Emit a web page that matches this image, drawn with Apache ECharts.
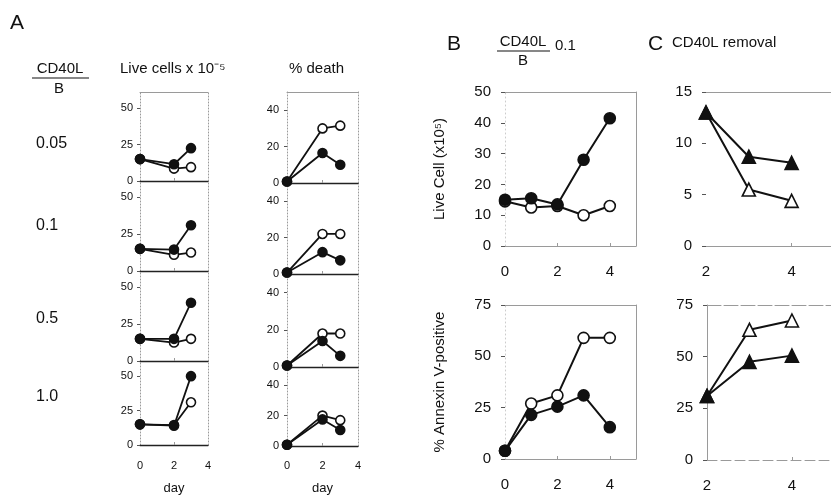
<!DOCTYPE html>
<html><head><meta charset="utf-8">
<script src="https://cdn.jsdelivr.net/npm/echarts@6/dist/echarts.min.js"></script>
<style>html,body{margin:0;padding:0;background:#fff}#c{width:831px;height:496px}</style>
</head><body><div id="c"></div>
<script>
const FONT = '"Liberation Sans", Arial, Helvetica, sans-serif';

// ---------- DATA ----------
const ratioLabels = ['0.05', '0.1', '0.5', '1.0'];
const daysA = [0, 2, 3];
const liveFilledA = [[15, 11.5, 22.5], [15, 14.5, 31], [15, 15, 39.5], [15, 14, 50]];
const liveOpenA   = [[15, 8.5, 9.5],   [15, 11, 12.5],  [15, 12.5, 15], [15, 14.5, 31]];
const deathFilledA = [[0.8, 16.5, 10], [0.8, 12, 7.5], [0.8, 14, 6], [0.8, 17.5, 10.5]];
const deathOpenA   = [[0.8, 30, 31.5], [0.8, 22, 22],  [0.8, 18, 18], [0.8, 20, 17]];
const liveTicksA = [0, 25, 50];
const deathTicksA = [0, 20, 40];
const dayTicksA = [0, 2, 4];

const daysB = [0, 1, 2, 3, 4];
const liveFilledB = [15, 15.5, 13.5, 28, 41.5];
const liveOpenB   = [14.5, 12.5, 13, 10, 13];
const annexFilledB = [4, 21.5, 25.5, 31, 15.5];
const annexOpenB   = [4, 27, 31, 59, 59];
const dayTicksB = [0, 2, 4];
const liveTicksB = [0, 10, 20, 30, 40, 50];
const annexTicks = [0, 25, 50, 75];

const daysC = [2, 3, 4];
const liveFilledC = [13, 8.7, 8.1];
const liveOpenC   = [13, 5.5, 4.4];
const annexFilledC = [31, 47.5, 50.5];
const annexOpenC   = [31, 63, 67.5];
const dayTicksC = [2, 4];
const liveTicksC = [0, 5, 10, 15];

// ---------- BUILD ----------
const grids = [], xAxes = [], yAxes = [], series = [];
const GRAY = '#9a9a9a', DARK = '#222';

function panel(c) {
  const gi = grids.length;
  grids.push({ left: c.left, top: c.top, width: c.width, height: c.height, show: false });
  const xi = xAxes.length;
  xAxes.push({
    type: 'value', gridIndex: gi, min: c.xmin, max: c.xmax, position: 'bottom',
    axisLine: { show: !!c.bottomLine, onZero: false, lineStyle: c.bottomLine || {} },
    axisTick: { show: !!c.xTicks, customValues: c.xTicks || [], inside: true, length: 3, lineStyle: { color: GRAY } },
    axisLabel: { show: !!c.xLabels, customValues: c.xLabels || [], fontSize: c.xFont || 13, color: '#111', fontFamily: FONT, margin: c.xMargin || 12 },
    splitLine: { show: false },
    name: c.xName || '', nameLocation: 'middle', nameGap: c.xNameGap || 30,
    nameTextStyle: { fontSize: 13, color: '#111', fontFamily: FONT }
  });
  if (c.topLine) {
    xAxes.push({ type: 'value', gridIndex: gi, min: c.xmin, max: c.xmax, position: 'top',
      axisLine: { show: true, onZero: false, lineStyle: c.topLine }, axisTick: { show: false }, axisLabel: { show: false }, splitLine: { show: false } });
  }
  const yi = yAxes.length;
  yAxes.push({
    type: 'value', gridIndex: gi, min: c.ymin, max: c.ymax, position: 'left',
    axisLine: { show: !!c.leftLine, onZero: false, lineStyle: c.leftLine || {} },
    axisTick: { show: true, customValues: c.yTicks, length: c.tickLen || 4, lineStyle: { color: '#555' } },
    axisLabel: { customValues: c.yTicks, fontSize: c.yFont || 14, color: '#111', fontFamily: FONT, margin: c.yMargin || 8 },
    splitLine: { show: false },
    name: c.yName || '', nameLocation: 'middle', nameRotate: 90, nameGap: c.yNameGap || 50,
    nameTextStyle: { fontSize: 15, color: '#111', fontFamily: FONT }
  });
  if (c.rightLine) {
    yAxes.push({ type: 'value', gridIndex: gi, min: c.ymin, max: c.ymax, position: 'right',
      axisLine: { show: true, onZero: false, lineStyle: c.rightLine }, axisTick: { show: false }, axisLabel: { show: false }, splitLine: { show: false } });
  }
  c.series.forEach(s => {
    series.push({
      type: 'line', xAxisIndex: xi, yAxisIndex: yi,
      data: s.x.map((d, i) => [d, s.y[i]]),
      symbol: s.symbol, symbolSize: s.size, showAllSymbol: true,
      lineStyle: { color: '#111', width: s.lw || 2 },
      itemStyle: { color: s.filled ? '#111' : '#fff', borderColor: '#111', borderWidth: 1.6, opacity: 1 },
      z: s.filled ? 4 : 3, animation: false, silent: true
    });
  });
}

const liveRows = [[92, 89], [181, 90], [271, 90], [361, 88]];
const deathRows = [[92, 91], [183, 91], [274, 93], [367, 84]];
const deathMax = [50, 50, 50, 52];
const dotted = { color: GRAY, type: [1, 2], width: 1 };
for (let r = 0; r < 4; r++) {
  const last = r === 3;
  panel({
    left: 140, top: liveRows[r][0], width: 68, height: liveRows[r][1],
    xmin: 0, xmax: 4, ymin: 0, ymax: 61, yTicks: liveTicksA, yFont: 11, yMargin: 7, tickLen: 3,
    xTicks: [2], xLabels: last ? dayTicksA : null, xFont: 11, xMargin: 15,
    xName: last ? 'day' : '', xNameGap: 37,
    leftLine: dotted, rightLine: dotted, bottomLine: { color: DARK, width: 1.3 },
    topLine: r === 0 ? { color: GRAY, width: 1 } : null,
    series: [
      { x: daysA, y: liveOpenA[r], filled: false, symbol: 'circle', size: 9, lw: 1.8 },
      { x: daysA, y: liveFilledA[r], filled: true, symbol: 'circle', size: 9, lw: 1.8 }
    ]
  });
  panel({
    left: 287, top: deathRows[r][0], width: 71, height: deathRows[r][1],
    xmin: 0, xmax: 4, ymin: 0, ymax: deathMax[r], yTicks: deathTicksA, yFont: 11, yMargin: 8, tickLen: 3,
    xTicks: [2], xLabels: last ? dayTicksA : null, xFont: 11, xMargin: 14,
    xName: last ? 'day' : '', xNameGap: 36,
    leftLine: dotted, rightLine: dotted, bottomLine: { color: DARK, width: 1.3 },
    topLine: r === 0 ? { color: GRAY, width: 1 } : null,
    series: [
      { x: daysA, y: deathOpenA[r], filled: false, symbol: 'circle', size: 9, lw: 1.8 },
      { x: daysA, y: deathFilledA[r], filled: true, symbol: 'circle', size: 9, lw: 1.8 }
    ]
  });
}

// Panel B
panel({
  left: 505, top: 92, width: 131, height: 154, xmin: 0, xmax: 5, ymin: 0, ymax: 50,
  yTicks: liveTicksB, yMargin: 14, xTicks: [2, 4], xLabels: dayTicksB, xMargin: 18, xFont: 15, yFont: 15,
  leftLine: { color: '#ccc', type: [1, 3], width: 1 }, rightLine: { color: GRAY, width: 1 },
  bottomLine: { color: GRAY, width: 1 }, topLine: { color: GRAY, width: 1 },
  yName: 'Live Cell (x10⁵)', yNameGap: 58,
  series: [
    { x: daysB, y: liveOpenB, filled: false, symbol: 'circle', size: 11 },
    { x: daysB, y: liveFilledB, filled: true, symbol: 'circle', size: 11 }
  ]
});
panel({
  left: 505, top: 305, width: 131, height: 154, xmin: 0, xmax: 5, ymin: 0, ymax: 75,
  yTicks: annexTicks, yMargin: 14, xTicks: [2, 4], xLabels: dayTicksB, xMargin: 18, xFont: 15, yFont: 15,
  leftLine: { color: '#ccc', type: [1, 3], width: 1 }, rightLine: { color: GRAY, width: 1 },
  bottomLine: { color: GRAY, width: 1 }, topLine: { color: GRAY, width: 1 },
  yName: '% Annexin V-positive', yNameGap: 58,
  series: [
    { x: daysB, y: annexOpenB, filled: false, symbol: 'circle', size: 11 },
    { x: daysB, y: annexFilledB, filled: true, symbol: 'circle', size: 11 }
  ]
});

// Panel C
panel({
  left: 706, top: 92, width: 125, height: 154, xmin: 2, xmax: 4.92, ymin: 0, ymax: 15,
  yTicks: liveTicksC, yMargin: 14, xTicks: [4], xLabels: dayTicksC, xMargin: 18, xFont: 15, yFont: 15,
  bottomLine: { color: GRAY, width: 1 }, topLine: { color: GRAY, width: 1 },
  series: [
    { x: daysC, y: liveOpenC, filled: false, symbol: 'triangle', size: 13 },
    { x: daysC, y: liveFilledC, filled: true, symbol: 'triangle', size: 13 }
  ]
});
panel({
  left: 707, top: 305, width: 124, height: 155, xmin: 2, xmax: 4.92, ymin: 0, ymax: 75,
  yTicks: annexTicks, yMargin: 14, xTicks: [4], xLabels: dayTicksC, xMargin: 18, xFont: 15, yFont: 15,
  leftLine: { color: GRAY, width: 1 },
  bottomLine: { color: GRAY, width: 1, type: [10, 4] }, topLine: { color: GRAY, width: 1, type: [14, 3] },
  series: [
    { x: daysC, y: annexOpenC, filled: false, symbol: 'triangle', size: 13 },
    { x: daysC, y: annexFilledC, filled: true, symbol: 'triangle', size: 13 }
  ]
});

// ---------- TEXT ----------
function txt(text, x, y, size, align, extra) {
  return Object.assign({ type: 'text', x: x, y: y, silent: true,
    style: { text: text, font: size + 'px ' + FONT, fill: '#111', align: align || 'left', verticalAlign: 'middle' } }, extra || {});
}
function line(x1, y1, x2, y2) {
  return { type: 'line', silent: true, shape: { x1, y1, x2, y2 }, style: { stroke: '#111', lineWidth: 1.2 } };
}
const graphics = [
  txt('A', 10, 23, 21),
  txt('CD40L', 60, 69, 15, 'center'), line(32, 78, 89, 78), txt('B', 59, 89, 15, 'center'),
  txt('Live cells x 10⁻⁵', 120, 69, 15),
  txt('% death', 289, 69, 15),
  txt('B', 447, 44, 21),
  txt('CD40L', 523, 42, 15, 'center'), line(497, 51, 550, 51), txt('B', 523, 61, 15, 'center'),
  txt('0.1', 555, 46, 15),
  txt('C', 648, 44, 21),
  txt('CD40L removal', 672, 43, 15)
];
const rowLabelY = [144, 226, 319, 397];
ratioLabels.forEach((t, i) => graphics.push(txt(t, 36, rowLabelY[i], 16)));

const chart = echarts.init(document.getElementById('c'), null, { renderer: 'canvas' });
chart.setOption({
  backgroundColor: '#fff', animation: false,
  grid: grids, xAxis: xAxes, yAxis: yAxes, series: series, graphic: graphics
});
</script></body></html>
